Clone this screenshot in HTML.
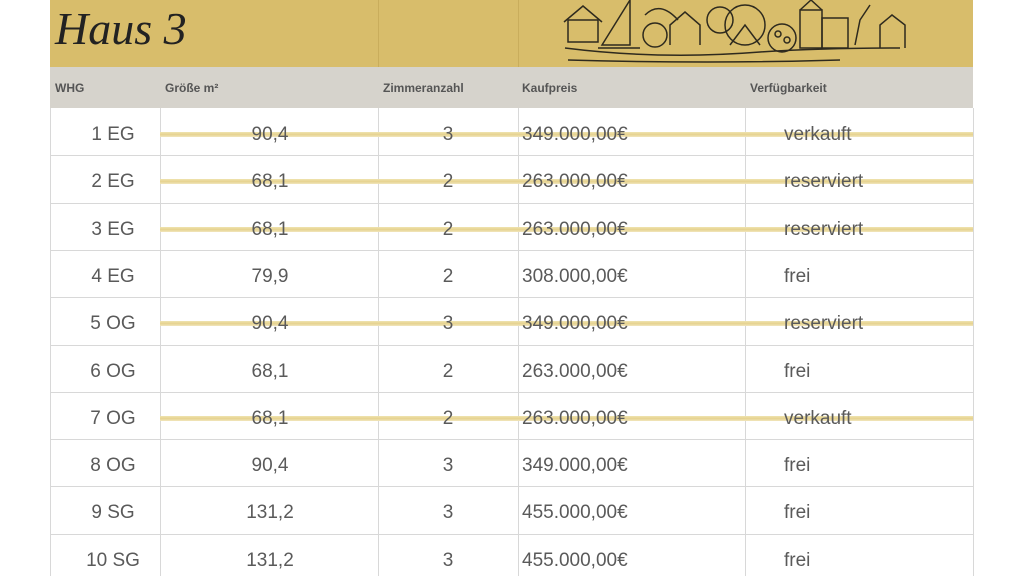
<!DOCTYPE html>
<html><head><meta charset="utf-8"><style>
body{margin:0;width:1024px;height:576px;background:#fff;position:relative;overflow:hidden;font-family:"Liberation Sans",sans-serif}
.a{position:absolute}
.h{font-weight:bold;font-size:12px;color:#555;top:81px}
.c{font-size:19px;color:#5a5a5a;position:absolute;line-height:20px}
.vl{position:absolute;width:1px;background:#d8d8d8;top:108px;height:468px}
.hl{position:absolute;left:50px;width:923px;height:1px;background:#d8d8d8}
.s{position:absolute;left:160px;width:813px;height:5px;background:linear-gradient(#efe3b0,#e6d28e,#f1e6bd)}
</style></head><body>
<div class="a" style="left:50px;top:0;width:923px;height:67px;background:#d8bd6b"></div>
<div class="a" style="left:378px;top:0;width:1px;height:67px;background:#c9ad5c"></div>
<div class="a" style="left:518px;top:0;width:1px;height:67px;background:#c9ad5c"></div>
<div class="a" style="left:55px;top:2px;font-family:'Liberation Serif',serif;font-style:italic;font-weight:normal;font-size:46px;color:#222">Haus 3</div>
<svg class="a" style="left:560px;top:0" width="360" height="68" viewBox="0 0 360 68" fill="none" stroke="#2e2a1e" stroke-width="1.5">
<path d="M5 48 Q100 60 200 52 Q260 48 340 48"/><path d="M8 60 Q150 64 280 60"/>
<rect x="8" y="20" width="30" height="22"/><path d="M4 22 L23 6 L42 22"/>
<path d="M42 45 L70 0 L70 45 Z"/><path d="M38 48 L80 48"/>
<circle cx="95" cy="35" r="12"/><path d="M85 15 Q100 0 118 20"/>
<path d="M110 45 L110 25 L125 12 L140 25 L140 45"/><circle cx="160" cy="20" r="13"/>
<circle cx="185" cy="25" r="20"/><path d="M170 45 L185 25 L200 45"/>
<circle cx="222" cy="38" r="14"/><circle cx="218" cy="34" r="3"/><circle cx="227" cy="40" r="3"/>
<rect x="240" y="10" width="22" height="38"/><rect x="262" y="18" width="26" height="30"/>
<path d="M240 10 L251 0 L262 10"/><path d="M295 45 L300 20 L310 5"/><path d="M320 48 L320 25 L332 15 L345 25 L345 48"/>
</svg>
<div class="a" style="left:50px;top:67px;width:923px;height:41px;background:#d6d3cc"></div>
<div class="a h" style="left:55px">WHG</div>
<div class="a h" style="left:165px">Größe m²</div>
<div class="a h" style="left:383px">Zimmeranzahl</div>
<div class="a h" style="left:522px">Kaufpreis</div>
<div class="a h" style="left:750px">Verfügbarkeit</div>
<div class="vl" style="left:50px"></div><div class="vl" style="left:160px"></div><div class="vl" style="left:378px"></div><div class="vl" style="left:518px"></div><div class="vl" style="left:745px"></div><div class="vl" style="left:973px"></div>
<div id="r"></div>
<script>
const d=[["1 EG","90,4","3","349.000,00€","verkauft",1],["2 EG","68,1","2","263.000,00€","reserviert",1],["3 EG","68,1","2","263.000,00€","reserviert",1],["4 EG","79,9","2","308.000,00€","frei",0],["5 OG","90,4","3","349.000,00€","reserviert",1],["6 OG","68,1","2","263.000,00€","frei",0],["7 OG","68,1","2","263.000,00€","verkauft",1],["8 OG","90,4","3","349.000,00€","frei",0],["9 SG","131,2","3","455.000,00€","frei",0],["10 SG","131,2","3","455.000,00€","frei",0]];
let h="";d.forEach((r,i)=>{const y=108+i*47.3;const t=y+17;
if(i>0)h+=`<div class="hl" style="top:${y}px"></div>`;
if(r[5])h+=`<div class="s" style="top:${y+24}px"></div>`;
h+=`<div class="c" style="left:60px;width:106px;text-align:center;top:${t}px">${r[0]}</div>`;
h+=`<div class="c" style="left:220px;width:100px;text-align:center;top:${t}px">${r[1]}</div>`;
h+=`<div class="c" style="left:398px;width:100px;text-align:center;top:${t}px">${r[2]}</div>`;
h+=`<div class="c" style="left:522px;top:${t}px">${r[3]}</div>`;
h+=`<div class="c" style="left:784px;top:${t}px">${r[4]}</div>`;});
document.getElementById("r").innerHTML=h;
</script>
</body></html>
